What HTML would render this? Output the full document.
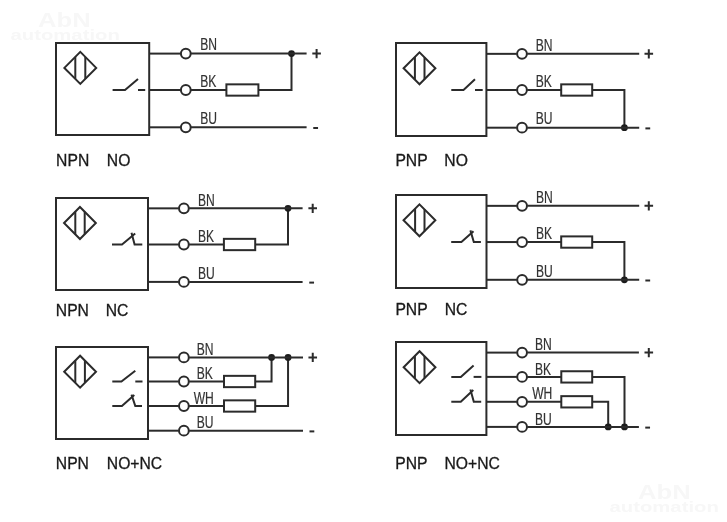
<!DOCTYPE html>
<html><head><meta charset="utf-8"><style>
html,body{margin:0;padding:0;background:#fff;}
body{width:727px;height:522px;overflow:hidden;position:relative;}
svg{position:absolute;left:0;top:0;will-change:transform;}
.s{fill:none;stroke:#2b2b2b;stroke-width:2.0;}
.l{font-family:"Liberation Sans",sans-serif;font-size:17.3px;fill:#333;stroke:#333;stroke-width:0.2px;}
.b{font-family:"Liberation Sans",sans-serif;font-size:15.7px;fill:#1a1a1a;stroke:#1a1a1a;stroke-width:0.3px;}
.w1{font-family:"Liberation Sans",sans-serif;font-weight:bold;fill:#f7f7f7;}
</style></head><body>
<svg width="727" height="522" viewBox="0 0 727 522">
<text class="w1" transform="translate(38,27) scale(1.22,1)" font-size="21">AbN</text>
<text class="w1" transform="translate(10.5,40) scale(1.45,1)" font-size="14">automation</text>
<text class="w1" transform="translate(638,499) scale(1.22,1)" font-size="21">AbN</text>
<text class="w1" transform="translate(609.5,512) scale(1.45,1)" font-size="14">automation</text>
<rect x="56" y="43" width="93.2" height="92" class="s"/>
<path class="s" stroke-width="1.8" d="M64.4,67.9 L80.3,51.9 L96.2,67.9 L80.3,83.9 Z"/>
<path class="s" stroke-width="1.9" d="M75.3,56.93 V78.87"/>
<path class="s" stroke-width="1.9" d="M85.3,56.93 V78.87"/>
<path class="s" d="M149.2,53.6 H180.6"/>
<circle class="s" cx="185.8" cy="53.6" r="4.9" stroke-width="2.75" stroke="#1c1c1c"/>
<path class="s" d="M149.2,90 H180.6"/>
<circle class="s" cx="185.8" cy="90" r="4.9" stroke-width="2.75" stroke="#1c1c1c"/>
<path class="s" d="M149.2,127.3 H180.6"/>
<circle class="s" cx="185.8" cy="127.3" r="4.9" stroke-width="2.75" stroke="#1c1c1c"/>
<path class="s" d="M112.6,90 H125 L138,78.9"/>
<path class="s" d="M138,90 H145.2"/>
<path class="s" d="M191,90 H226.4"/>
<rect class="s" x="226.4" y="84.35" width="32" height="11.3"/>
<path class="s" d="M258.4,90 H291.5 V53.6"/>
<circle cx="291.5" cy="53.6" r="3.4" fill="#1c1c1c"/>
<path class="s" d="M191,53.6 H306.6"/>
<path class="s" d="M191,127.3 H306.6"/>
<path class="s" stroke-width="1.9" d="M312.3,53.6 H320.9 M316.6,49 V58.2"/>
<path class="s" stroke-width="1.9" d="M313.25,128 H318.05"/>
<text class="l" transform="translate(200.2,50.2) scale(0.7,1)">BN</text>
<text class="l" transform="translate(200.2,86.6) scale(0.7,1)">BK</text>
<text class="l" transform="translate(200.2,123.9) scale(0.7,1)">BU</text>
<text class="b" x="56.1" y="165.7">NPN</text>
<text class="b" x="106.8" y="165.7">NO</text>
<rect x="396" y="43" width="90.4" height="93" class="s"/>
<path class="s" stroke-width="1.8" d="M403.6,68.3 L419.5,52.3 L435.4,68.3 L419.5,84.3 Z"/>
<path class="s" stroke-width="1.9" d="M414.9,56.93 V79.67"/>
<path class="s" stroke-width="1.9" d="M424.5,57.33 V79.27"/>
<path class="s" d="M486.4,53.85 H516.8"/>
<circle class="s" cx="522" cy="53.85" r="4.9" stroke-width="2.75" stroke="#1c1c1c"/>
<path class="s" d="M486.4,90 H516.8"/>
<circle class="s" cx="522" cy="90" r="4.9" stroke-width="2.75" stroke="#1c1c1c"/>
<path class="s" d="M486.4,127.7 H516.8"/>
<circle class="s" cx="522" cy="127.7" r="4.9" stroke-width="2.75" stroke="#1c1c1c"/>
<path class="s" d="M451.3,90 H463.5 L475,79.2"/>
<path class="s" d="M475,90 H482.7"/>
<path class="s" d="M527.2,90 H561.2"/>
<rect class="s" x="561.2" y="84.35" width="31" height="11.3"/>
<path class="s" d="M592.2,90 H624.4 V127.7"/>
<circle cx="624.4" cy="127.7" r="3.4" fill="#1c1c1c"/>
<path class="s" d="M527.2,53.85 H639.2"/>
<path class="s" d="M527.2,127.7 H639.2"/>
<path class="s" stroke-width="1.9" d="M644.5,53.85 H653.1 M648.8,49.25 V58.45"/>
<path class="s" stroke-width="1.9" d="M645.4,128.4 H650.2"/>
<text class="l" transform="translate(535.7,50.55) scale(0.7,1)">BN</text>
<text class="l" transform="translate(535.7,86.7) scale(0.7,1)">BK</text>
<text class="l" transform="translate(535.7,124.4) scale(0.7,1)">BU</text>
<text class="b" x="395.4" y="165.6">PNP</text>
<text class="b" x="444.3" y="165.6">NO</text>
<rect x="56" y="198" width="92" height="92" class="s"/>
<path class="s" stroke-width="1.8" d="M64.05,223 L79.95,207 L95.85,223 L79.95,239 Z"/>
<path class="s" stroke-width="1.9" d="M75.3,211.68 V234.32"/>
<path class="s" stroke-width="1.9" d="M84.7,211.78 V234.22"/>
<path class="s" d="M148,208.35 H178.7"/>
<circle class="s" cx="183.9" cy="208.35" r="4.9" stroke-width="2.75" stroke="#1c1c1c"/>
<path class="s" d="M148,244.5 H178.7"/>
<circle class="s" cx="183.9" cy="244.5" r="4.9" stroke-width="2.75" stroke="#1c1c1c"/>
<path class="s" d="M148,281.9 H178.7"/>
<circle class="s" cx="183.9" cy="281.9" r="4.9" stroke-width="2.75" stroke="#1c1c1c"/>
<path class="s" d="M112,244.5 H122 L135.2,233.6"/>
<path class="s" d="M131.5,232.8 L134.6,244.5 H142.3"/>
<path class="s" d="M189.1,244.5 H223.9"/>
<rect class="s" x="223.9" y="238.85" width="31.3" height="11.3"/>
<path class="s" d="M255.2,244.5 H288 V208.35"/>
<circle cx="288" cy="208.35" r="3.4" fill="#1c1c1c"/>
<path class="s" d="M189.1,208.35 H302.6"/>
<path class="s" d="M189.1,281.9 H302.6"/>
<path class="s" stroke-width="1.9" d="M308.4,208.35 H317 M312.7,203.75 V212.95"/>
<path class="s" stroke-width="1.9" d="M309.25,282.6 H314.05"/>
<text class="l" transform="translate(197.9,205.55) scale(0.7,1)">BN</text>
<text class="l" transform="translate(197.9,241.7) scale(0.7,1)">BK</text>
<text class="l" transform="translate(197.9,279.1) scale(0.7,1)">BU</text>
<text class="b" x="55.8" y="315.6">NPN</text>
<text class="b" x="105.7" y="315.6">NC</text>
<rect x="396" y="195" width="90.5" height="93" class="s"/>
<path class="s" stroke-width="1.8" d="M403.55,220.3 L419.45,204.3 L435.35,220.3 L419.45,236.3 Z"/>
<path class="s" stroke-width="1.9" d="M415.1,208.68 V231.92"/>
<path class="s" stroke-width="1.9" d="M424.5,209.38 V231.22"/>
<path class="s" d="M486.5,205.85 H516.9"/>
<circle class="s" cx="522.1" cy="205.85" r="4.9" stroke-width="2.75" stroke="#1c1c1c"/>
<path class="s" d="M486.5,242.05 H516.9"/>
<circle class="s" cx="522.1" cy="242.05" r="4.9" stroke-width="2.75" stroke="#1c1c1c"/>
<path class="s" d="M486.5,279.8 H516.9"/>
<circle class="s" cx="522.1" cy="279.8" r="4.9" stroke-width="2.75" stroke="#1c1c1c"/>
<path class="s" d="M451.2,242.05 H461.4 L473.5,231.3"/>
<path class="s" d="M470.4,230.4 L473.8,242.05 H480.9"/>
<path class="s" d="M527.3,242.05 H561.2"/>
<rect class="s" x="561.2" y="236.4" width="31" height="11.3"/>
<path class="s" d="M592.2,242.05 H624.4 V279.8"/>
<circle cx="624.4" cy="279.8" r="3.4" fill="#1c1c1c"/>
<path class="s" d="M527.3,205.85 H639.2"/>
<path class="s" d="M527.3,279.8 H639.2"/>
<path class="s" stroke-width="1.9" d="M644.5,205.85 H653.1 M648.8,201.25 V210.45"/>
<path class="s" stroke-width="1.9" d="M645.35,280.5 H650.15"/>
<text class="l" transform="translate(535.9,202.75) scale(0.7,1)">BN</text>
<text class="l" transform="translate(535.9,238.95) scale(0.7,1)">BK</text>
<text class="l" transform="translate(535.9,276.7) scale(0.7,1)">BU</text>
<text class="b" x="395.4" y="314.5">PNP</text>
<text class="b" x="444.7" y="314.5">NC</text>
<rect x="56" y="347" width="92" height="92" class="s"/>
<path class="s" stroke-width="1.8" d="M64.2,371.7 L80.1,355.7 L96,371.7 L80.1,387.7 Z"/>
<path class="s" stroke-width="1.9" d="M75.3,360.53 V382.87"/>
<path class="s" stroke-width="1.9" d="M84.9,360.53 V382.87"/>
<path class="s" d="M148,357.4 H178.7"/>
<circle class="s" cx="183.9" cy="357.4" r="4.9" stroke-width="2.75" stroke="#1c1c1c"/>
<path class="s" d="M148,381.5 H178.7"/>
<circle class="s" cx="183.9" cy="381.5" r="4.9" stroke-width="2.75" stroke="#1c1c1c"/>
<path class="s" d="M148,406 H178.7"/>
<circle class="s" cx="183.9" cy="406" r="4.9" stroke-width="2.75" stroke="#1c1c1c"/>
<path class="s" d="M148,430.7 H178.7"/>
<circle class="s" cx="183.9" cy="430.7" r="4.9" stroke-width="2.75" stroke="#1c1c1c"/>
<path class="s" d="M112.3,381.5 H121.4 L135.3,370.8"/>
<path class="s" d="M135.3,381.5 H142.5"/>
<path class="s" d="M112.3,406 H121.9 L134.3,395"/>
<path class="s" d="M131.5,394.6 L135.3,406 H142"/>
<path class="s" d="M189.1,381.5 H224"/>
<rect class="s" x="224" y="375.85" width="31.2" height="11.3"/>
<path class="s" d="M255.2,381.5 H271.55 V357.4"/>
<circle cx="271.55" cy="357.4" r="3.4" fill="#1c1c1c"/>
<path class="s" d="M189.1,406 H224"/>
<rect class="s" x="224" y="400.35" width="31.2" height="11.3"/>
<path class="s" d="M255.2,406 H288.05 V357.4"/>
<circle cx="288.05" cy="357.4" r="3.4" fill="#1c1c1c"/>
<path class="s" d="M189.1,357.4 H303"/>
<path class="s" d="M189.1,430.7 H303"/>
<path class="s" stroke-width="1.9" d="M308.45,357.4 H317.05 M312.75,352.8 V362"/>
<path class="s" stroke-width="1.9" d="M309.5,431.4 H314.3"/>
<text class="l" transform="translate(196.7,355.1) scale(0.7,1)">BN</text>
<text class="l" transform="translate(196.7,379.2) scale(0.7,1)">BK</text>
<text class="l" transform="translate(193.7,403.7) scale(0.7,1)">WH</text>
<text class="l" transform="translate(196.7,428.4) scale(0.7,1)">BU</text>
<text class="b" x="55.8" y="468.5">NPN</text>
<text class="b" x="106.8" y="468.5">NO+NC</text>
<rect x="396" y="342" width="90.4" height="93" class="s"/>
<path class="s" stroke-width="1.8" d="M403.65,367.2 L419.55,351.2 L435.45,367.2 L419.55,383.2 Z"/>
<path class="s" stroke-width="1.9" d="M414.9,355.88 V378.52"/>
<path class="s" stroke-width="1.9" d="M424.5,356.18 V378.22"/>
<path class="s" d="M486.4,352.6 H516.9"/>
<circle class="s" cx="522.1" cy="352.6" r="4.9" stroke-width="2.75" stroke="#1c1c1c"/>
<path class="s" d="M486.4,376.9 H516.9"/>
<circle class="s" cx="522.1" cy="376.9" r="4.9" stroke-width="2.75" stroke="#1c1c1c"/>
<path class="s" d="M486.4,401.8 H516.9"/>
<circle class="s" cx="522.1" cy="401.8" r="4.9" stroke-width="2.75" stroke="#1c1c1c"/>
<path class="s" d="M486.4,426.9 H516.9"/>
<circle class="s" cx="522.1" cy="426.9" r="4.9" stroke-width="2.75" stroke="#1c1c1c"/>
<path class="s" d="M451.3,376.9 H460.8 L473.6,365.6"/>
<path class="s" d="M473.6,376.9 H481.4"/>
<path class="s" d="M451.3,401.8 H460.8 L473.3,390"/>
<path class="s" d="M470.4,389.6 L473.8,401.8 H481.2"/>
<path class="s" d="M527.3,376.9 H561.3"/>
<rect class="s" x="561.3" y="371.25" width="30.9" height="11.3"/>
<path class="s" d="M592.2,376.9 H624.5 V426.9"/>
<circle cx="624.5" cy="426.9" r="3.4" fill="#1c1c1c"/>
<path class="s" d="M527.3,401.8 H561.3"/>
<rect class="s" x="561.3" y="396.15" width="30.9" height="11.3"/>
<path class="s" d="M592.2,401.8 H608.2 V426.9"/>
<circle cx="608.2" cy="426.9" r="3.4" fill="#1c1c1c"/>
<path class="s" d="M527.3,352.6 H638.9"/>
<path class="s" d="M527.3,426.9 H638.9"/>
<path class="s" stroke-width="1.9" d="M644.5,352.6 H653.1 M648.8,348 V357.2"/>
<path class="s" stroke-width="1.9" d="M645.25,427.6 H650.05"/>
<text class="l" transform="translate(535,350.2) scale(0.7,1)">BN</text>
<text class="l" transform="translate(535,374.5) scale(0.7,1)">BK</text>
<text class="l" transform="translate(532.2,399.4) scale(0.7,1)">WH</text>
<text class="l" transform="translate(535,424.5) scale(0.7,1)">BU</text>
<text class="b" x="395.3" y="468.9">PNP</text>
<text class="b" x="444.5" y="468.9">NO+NC</text>
</svg>
</body></html>
